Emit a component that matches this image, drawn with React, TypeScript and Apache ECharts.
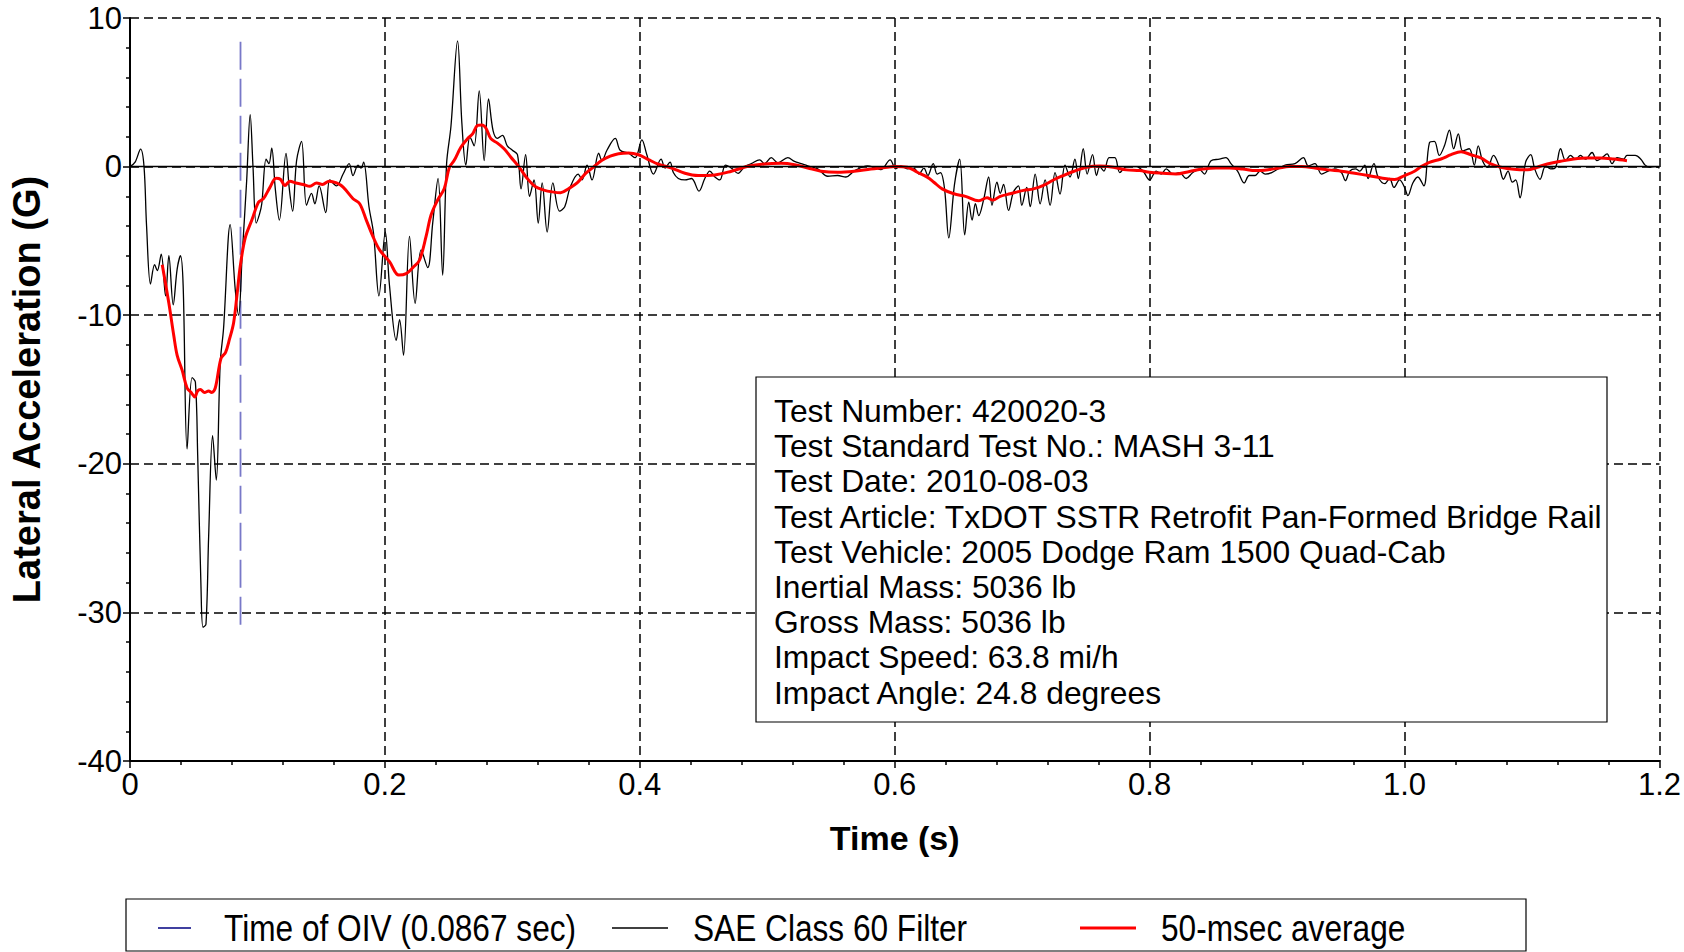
import React, { useEffect, useRef } from "react";
import * as echarts from "echarts";

const REGULAR = "'Liberation Sans', Arial, sans-serif";

// SAE Class 60 filtered lateral acceleration (G) vs time (s)
const saeTime = [
  0, 0.004, 0.0083, 0.011, 0.013, 0.0161, 0.0193, 0.0214, 0.0245, 0.0279, 0.0305, 0.0339, 0.037, 0.0396, 0.0417,
  0.0448, 0.0487, 0.0513, 0.0531, 0.0557, 0.0573, 0.0596, 0.0617, 0.0648, 0.0677, 0.0708, 0.0734, 0.0786, 0.0826,
  0.0852, 0.088, 0.0915, 0.0943, 0.0965, 0.099, 0.1016, 0.1034, 0.1068, 0.109, 0.1112, 0.114, 0.1172, 0.1224, 0.125,
  0.1276, 0.1307, 0.1346, 0.1385, 0.1424, 0.145, 0.1484, 0.1536, 0.1568, 0.162, 0.1672, 0.1719, 0.175, 0.1789,
  0.1812, 0.1833, 0.1875, 0.1911, 0.1953, 0.2003, 0.2036, 0.2089, 0.2115, 0.2146, 0.2193, 0.2237, 0.2284, 0.2336,
  0.2375, 0.2417, 0.2453, 0.2484, 0.2518, 0.257, 0.2604, 0.2635, 0.2667, 0.27, 0.274, 0.2779, 0.2813, 0.2849,
  0.2883, 0.2922, 0.296, 0.3, 0.304, 0.3068, 0.3104, 0.3135, 0.317, 0.3203, 0.3234, 0.3273, 0.3318, 0.337, 0.3411,
  0.3453, 0.3516, 0.3547, 0.3586, 0.3625, 0.3677, 0.3703, 0.3742, 0.3807, 0.3846, 0.3911, 0.3964, 0.4016, 0.4055,
  0.4107, 0.4167, 0.4198, 0.4237, 0.4263, 0.4302, 0.4354, 0.4406, 0.4464, 0.451, 0.4549, 0.4589, 0.4628, 0.4672,
  0.4719, 0.4771, 0.4823, 0.4875, 0.494, 0.4979, 0.5031, 0.5083, 0.5161, 0.5214, 0.5266, 0.5318, 0.5396, 0.5474,
  0.5552, 0.5617, 0.5682, 0.5786, 0.5839, 0.5891, 0.5964, 0.6008, 0.6047, 0.6099, 0.6151, 0.619, 0.6229, 0.626,
  0.6302, 0.6333, 0.6359, 0.6391, 0.6424, 0.6469, 0.651, 0.6549, 0.6581, 0.6607, 0.6633, 0.6659, 0.6698, 0.6737,
  0.6763, 0.6802, 0.6828, 0.6854, 0.6893, 0.6932, 0.6971, 0.6997, 0.7036, 0.7063, 0.7102, 0.7141, 0.718, 0.7219,
  0.7258, 0.7297, 0.7336, 0.7375, 0.7414, 0.744, 0.7479, 0.751, 0.7552, 0.7583, 0.7609, 0.7641, 0.7682, 0.7727,
  0.7766, 0.7818, 0.7896, 0.7948, 0.8, 0.8052, 0.8091, 0.813, 0.8182, 0.8234, 0.8286, 0.8339, 0.8391, 0.843,
  0.8482, 0.8547, 0.8599, 0.8638, 0.869, 0.8742, 0.8781, 0.8828, 0.8867, 0.8906, 0.8958, 0.9063, 0.914, 0.9206,
  0.9245, 0.9297, 0.9349, 0.9401, 0.9453, 0.9505, 0.9536, 0.957, 0.9615, 0.9648, 0.9688, 0.9714, 0.976, 0.9792,
  0.9844, 0.9883, 0.9917, 0.9961, 1.0, 1.0026, 1.0065, 1.0104, 1.0151, 1.0195, 1.0234, 1.0273, 1.0313, 1.0352,
  1.0385, 1.0422, 1.0456, 1.0508, 1.0547, 1.0578, 1.0612, 1.0651, 1.0698, 1.0742, 1.0776, 1.0812, 1.0846, 1.0872,
  1.0906, 1.095, 1.099, 1.1021, 1.1063, 1.1107, 1.1146, 1.1185, 1.1224, 1.1263, 1.1302, 1.1341, 1.138, 1.1419,
  1.1471, 1.151, 1.1549, 1.1589, 1.1628, 1.1667, 1.1719, 1.1745, 1.181, 1.1854, 1.1888, 1.1927, 1.1966, 1.2,
];
const saeAccel = [
  0, 0.3, 1.18, 0.0, -4.0, -7.9, -6.6, -7.0, -5.9, -8.7, -6.0, -9.3, -6.9, -6.0, -8.0,
  -19.0, -14.2, -14.5, -19.4, -28.3, -31.0, -30.8, -24.9, -18.1, -21.1, -13.2, -10.9, -3.9, -8.3,
  -10.0, -6.0, -1.0, 3.5, 0.0, -3.8, -3.2, -2.5, 0.5, 0.2, 1.24, -1.5, -3.6, 0.89, -1.5,
  -3.0, 0.4, 1.7, -2.6, -1.8, -2.5, -1.3, -3.1, -0.9, -1.3, -0.5, 0.2, -0.6, 0.1,
  -0.1, 0.3, -2.7, -4.5, -8.7, -4.4, -8.0, -11.7, -10.3, -12.7, -4.7, -9.2, -5.6, -6.8,
  -3.8, -0.8, -7.3, 0.2, 2.7, 8.46, 2.9, 0.1, 2.0, 1.4, 5.1, 0.4, 4.55, 2.4,
  1.9, 2.1, 1.4, 1.1, 0.8, -1.5, 0.8, -2.0, -0.9, -3.8, -1.1, -4.4, -1.1, -3.0, -2.7,
  -1.4, -0.5, -0.9, 0.1, -0.9, 0.9, 0.4, 1.1, 1.9, 1.1, 0.9, 0.6, 1.8, 0.8,
  -0.5, 0.5, -0.1, 0.3, -0.4, -0.8, -0.9, -0.8, -1.65, -0.8, -0.3, -0.7, -0.9, 0.1,
  -0.1, -0.45, 0.0, 0.2, 0.45, 0.2, 0.6, 0.25, 0.6, 0.35, 0.2, 0.05, -0.15, -0.65,
  -0.6, -0.7, -0.3, 0.05, -0.05, -0.2, 0.45, -0.15, 0.05, -0.15, -0.1, -0.5, -0.1, -0.6,
  0.2, -0.5, -0.4, -1.5, -4.8, -1.2, 0.5, -4.6, -2.4, -3.6, -2.5, -3.3, -2.2, -0.7,
  -2.6, -1.05, -1.8, -1.2, -2.95, -1.7, -1.3, -2.6, -1.4, -2.7, -0.5, -2.5, -0.9, -2.6,
  -0.4, -1.85, 0.1, -0.7, 0.5, -0.8, 1.2, -0.5, 0.8, -0.6, 0.0, -0.3, 0.6, 0.6,
  -0.4, 0.0, 0.0, -0.3, -0.9, -0.3, -0.5, -0.15, -0.5, -0.4, -0.8, -0.4, -0.2, -0.5,
  0.4, 0.5, 0.6, 0.2, -0.3, -1.1, -0.6, -0.6, -0.3, -0.5, -0.4, 0.1, 0.2, 0.6,
  0.05, 0.2, -0.5, -0.3, -0.15, -0.4, -0.95, -0.3, -0.15, -0.3, 0.1, -0.8, 0.2, -0.7,
  -1.15, -0.8, -1.4, -0.9, -1.4, -1.95, -1.1, -0.7, -1.3, 1.6, 1.7, 0.75, 1.4, 2.45,
  1.2, 2.2, 1.05, 1.2, 0.1, 1.4, 0.4, -0.05, 0.75, 0.05, -0.85, -0.3, -1.05, -0.9,
  -2.1, 0.3, 0.8, -0.15, -0.85, 0.05, -0.15, -0.05, 1.2, 0.4, 0.75, 0.5, 0.75, 0.5,
  0.95, 0.4, 0.6, 0.85, 0.2, 0.6, 0.5, 0.75, 0.75, 0.5, 0.1, -0.05, 0.0, -0.1,
];

// 50-msec moving average (G)
const avgTime = [
  0.0253, 0.0305, 0.0344, 0.037, 0.0409, 0.0448, 0.048, 0.0508, 0.053, 0.0552, 0.0585, 0.0617, 0.064, 0.0669,
  0.0714, 0.075, 0.0781, 0.0813, 0.084, 0.0865, 0.0904, 0.0956, 0.1008, 0.1047, 0.1099, 0.1146, 0.118, 0.1216,
  0.1255, 0.13, 0.1359, 0.1411, 0.1464, 0.151, 0.1563, 0.162, 0.1672, 0.175, 0.1802, 0.1854, 0.1911, 0.1958,
  0.2036, 0.2109, 0.2167, 0.2219, 0.2271, 0.2323, 0.2362, 0.2414, 0.2466, 0.2505, 0.2544, 0.2596, 0.2648, 0.2688,
  0.2727, 0.276, 0.2792, 0.2831, 0.2883, 0.2935, 0.2987, 0.3052, 0.3117, 0.3182, 0.3247, 0.3313, 0.3378, 0.3443,
  0.3508, 0.3573, 0.3638, 0.3703, 0.3768, 0.3833, 0.3911, 0.399, 0.4068, 0.4146, 0.425, 0.4354, 0.4458, 0.4589,
  0.4719, 0.4849, 0.4979, 0.5109, 0.5214, 0.5318, 0.5422, 0.5552, 0.5682, 0.5813, 0.5943, 0.6, 0.6099, 0.6177,
  0.6255, 0.6307, 0.6372, 0.6464, 0.6555, 0.6659, 0.6724, 0.677, 0.6828, 0.6906, 0.701, 0.7089, 0.7167, 0.7245,
  0.7323, 0.7401, 0.7505, 0.7609, 0.7714, 0.7818, 0.7922, 0.8, 0.8104, 0.8208, 0.8313, 0.8417, 0.8521, 0.8625,
  0.8729, 0.8833, 0.8938, 0.9016, 0.9094, 0.9193, 0.9297, 0.9401, 0.9505, 0.9609, 0.9714, 0.9818, 0.9922, 1.0,
  1.0078, 1.013, 1.0195, 1.0286, 1.0365, 1.0443, 1.0521, 1.0599, 1.0677, 1.0755, 1.0859, 1.0964, 1.1042, 1.112,
  1.1224, 1.1328, 1.1432, 1.1536, 1.1641, 1.1745,
];
const avgAccel = [
  -6.6, -9.2, -11.4, -12.7, -13.7, -14.9, -15.2, -15.5, -15.1, -15.0, -15.2, -15.1, -15.2, -14.9,
  -12.9, -12.5, -11.6, -10.5, -8.6, -6.7, -4.8, -3.6, -2.4, -2.16, -1.38, -0.78, -0.85, -1.27,
  -0.98, -1.1, -1.2, -1.33, -1.1, -1.2, -0.98, -1.1, -1.38, -2.16, -2.5, -3.6, -4.8, -5.6,
  -6.4, -7.3, -7.2, -6.8, -6.3, -4.7, -3.26, -2.25, -1.47, -0.07, 0.42, 1.3, 1.88, 2.2,
  2.77, 2.8, 2.6, 1.88, 1.58, 1.2, 0.65, -0.02, -0.8, -1.36, -1.58, -1.7, -1.76, -1.47,
  -1.1, -0.47, -0.02, 0.42, 0.7, 0.87, 0.92, 0.8, 0.47, 0.16, -0.1, -0.45, -0.6, -0.56,
  -0.31, 0.02, 0.18, 0.22, 0.13, -0.09, -0.31, -0.38, -0.31, -0.16, -0.04, 0.0, -0.05, -0.38,
  -0.71, -1.05, -1.5, -1.83, -2.0, -2.3, -2.1, -2.25, -2.0, -1.83, -1.6, -1.5, -1.27, -0.9,
  -0.6, -0.33, -0.04, 0.04, -0.04, -0.22, -0.27, -0.38, -0.45, -0.5, -0.33, -0.16, -0.09, -0.09,
  -0.16, -0.27, -0.2, -0.09, 0.0, 0.0, -0.09, -0.22, -0.31, -0.45, -0.6, -0.76, -0.87, -0.6,
  -0.31, 0.0, 0.29, 0.51, 0.8, 1.0, 0.8, 0.58, 0.18, -0.04, -0.18, -0.22, -0.04, 0.18,
  0.36, 0.51, 0.58, 0.58, 0.51, 0.4,
];

// Time of OIV marker
const oivTime = 0.0867;
const oivSpan = [8.4, -31.2];

const infoLines = [
  "Test Number: 420020-3",
  "Test Standard Test No.: MASH 3-11",
  "Test Date: 2010-08-03",
  "Test Article: TxDOT SSTR Retrofit Pan-Formed Bridge Rail",
  "Test Vehicle: 2005 Dodge Ram 1500 Quad-Cab",
  "Inertial Mass: 5036 lb",
  "Gross Mass: 5036 lb",
  "Impact Speed: 63.8 mi/h",
  "Impact Angle: 24.8 degrees",
];

const legendItems = [
  { name: "Time of OIV (0.0867 sec)", color: "#000080", width: 1.5, x1: 158, x2: 191, tx: 224 },
  { name: "SAE Class 60 Filter", color: "#000000", width: 1.5, x1: 612, x2: 668, tx: 693 },
  { name: "50-msec average", color: "#ff0000", width: 3, x1: 1080, x2: 1136, tx: 1161 },
];

export default function App() {
  const ref = useRef<HTMLDivElement>(null);
  useEffect(() => {
    if (!ref.current) return;
    const chart = echarts.init(ref.current, null, { renderer: "svg" });
    const sae = saeTime.map((t, i) => [t, saeAccel[i]]);
    const avg = avgTime.map((t, i) => [t, avgAccel[i]]);
    const oiv = oivSpan.map((v) => [oivTime, v]);

    const graphic: any[] = [
      {
        type: "rect",
        shape: { x: 756, y: 377, width: 851, height: 345 },
        style: { fill: "#fff", stroke: "#000", lineWidth: 1.2 },
        z: 100,
      },
      ...infoLines.map((s, i) => ({
        type: "text",
        x: 774,
        y: 411 + i * 35.2,
        z: 101,
        style: {
          text: s,
          fontFamily: REGULAR,
          fontSize: 31.8,
          fill: "#000",
          verticalAlign: "middle",
          align: "left",
        },
      })),
      {
        type: "rect",
        shape: { x: 126, y: 899, width: 1400, height: 52 },
        style: { fill: "#fff", stroke: "#000", lineWidth: 1.2 },
      },
      ...legendItems.flatMap((it) => [
        {
          type: "line",
          shape: { x1: it.x1, y1: 928, x2: it.x2, y2: 928 },
          style: { stroke: it.color, lineWidth: it.width },
        },
        {
          type: "text",
          x: it.tx,
          y: 928,
          scaleX: 0.855,
          style: {
            text: it.name,
            fontFamily: REGULAR,
            fontSize: 37,
            fill: "#000",
            verticalAlign: "middle",
            align: "left",
          },
        },
      ]),
    ];

    chart.setOption({
      animation: false,
      backgroundColor: "#fff",
      grid: { left: 126, right: 21, top: 18, bottom: 191, containLabel: false },
      xAxis: {
        type: "value",
        min: 0,
        max: 1.2,
        interval: 0.2,
        axisLine: { show: true, onZero: false, lineStyle: { color: "#000", width: 2 } },
        axisTick: { show: true, length: 7, lineStyle: { color: "#000", width: 1.5 } },
        minorTick: { show: true, splitNumber: 5, length: 4, lineStyle: { color: "#000", width: 1.5 } },
        splitLine: { show: true, lineStyle: { color: "#000", type: [9, 5], width: 1.5 } },
        axisLabel: {
          color: "#000",
          fontFamily: REGULAR,
          fontSize: 31,
          margin: 8,
          formatter: (v: number) => (v === 0 ? "0" : v.toFixed(1)),
        },
        name: "Time (s)",
        nameLocation: "middle",
        nameGap: 60,
        nameTextStyle: { color: "#000", fontFamily: REGULAR, fontSize: 34, fontWeight: "bold" },
      },
      yAxis: {
        type: "value",
        min: -40,
        max: 10,
        interval: 10,
        axisLine: { show: true, onZero: false, lineStyle: { color: "#000", width: 2 } },
        axisTick: { show: true, length: 7, lineStyle: { color: "#000", width: 1.5 } },
        minorTick: { show: true, splitNumber: 5, length: 4, lineStyle: { color: "#000", width: 1.5 } },
        splitLine: { show: true, lineStyle: { color: "#000", type: [9, 5], width: 1.5 } },
        axisLabel: { color: "#000", fontFamily: REGULAR, fontSize: 31, lineHeight: 26, margin: 8 },
        name: "Lateral Acceleration (G)",
        nameLocation: "middle",
        nameGap: 84,
        nameTextStyle: { color: "#000", fontFamily: REGULAR, fontSize: 38, fontWeight: "bold" },
      },
      series: [
        {
          name: "Time of OIV (0.0867 sec)",
          type: "line",
          data: oiv,
          showSymbol: false,
          lineStyle: { color: "#7878c8", width: 1.8, type: [28, 9] },
          silent: true,
          z: 2,
        },
        {
          name: "SAE Class 60 Filter",
          type: "line",
          data: sae,
          showSymbol: false,
          smooth: 0.35,
          lineStyle: { color: "#000", width: 1.3 },
          silent: true,
          z: 3,
          markLine: {
            silent: true,
            symbol: ["none", "none"],
            label: { show: false },
            lineStyle: { color: "#000", type: "solid", width: 1.3 },
            data: [{ yAxis: 0 }],
          },
        },
        {
          name: "50-msec average",
          type: "line",
          data: avg,
          showSymbol: false,
          smooth: 0.35,
          lineStyle: { color: "#ff0000", width: 3 },
          silent: true,
          z: 4,
        },
      ],
      graphic,
    });
    return () => chart.dispose();
  }, []);
  return (
    <div
      ref={ref}
      style={{ position: "absolute", left: 0, top: 0, width: 1684, height: 952, background: "#fff" }}
    />
  );
}
